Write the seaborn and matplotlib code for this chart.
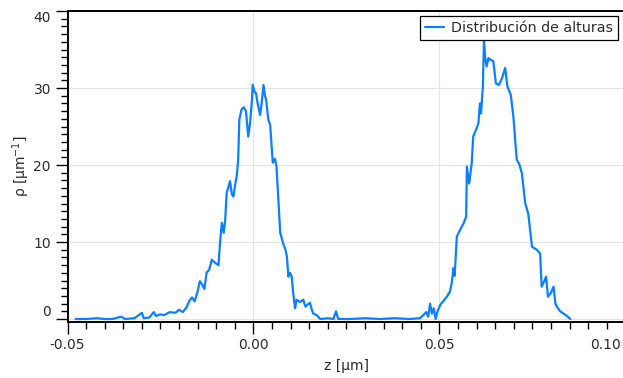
import matplotlib
matplotlib.use("Agg")
import matplotlib.pyplot as plt
import matplotlib.transforms as mtransforms
from matplotlib.ticker import FixedLocator, MultipleLocator
import pandas as pd
import seaborn as sns

# Height distribution: z position (µm) and density rho (µm^-1)
z_um = [
    -0.0478, -0.0450, -0.0420, -0.0400, -0.0380, -0.0355, -0.0345, -0.0320,
    -0.0300, -0.0295, -0.0280, -0.0268, -0.0262, -0.0250, -0.0240, -0.0225,
    -0.0210, -0.0200, -0.0190, -0.0180, -0.0172, -0.0165, -0.0158, -0.0150,
    -0.0144, -0.0138, -0.0132, -0.0126, -0.0119, -0.0112, -0.0103, -0.0094,
    -0.0090, -0.0085, -0.0080, -0.0076, -0.0072, -0.0067, -0.0063, -0.0058,
    -0.0054, -0.0049, -0.0045, -0.0041, -0.0038, -0.0032, -0.0026, -0.0020,
    -0.0014, -0.0009, -0.0004, -0.0002, 0.0003, 0.0007, 0.0012, 0.0018,
    0.0022, 0.0027, 0.0031, 0.0034, 0.0040, 0.0045, 0.0052, 0.0058,
    0.0062, 0.0067, 0.0072, 0.0076, 0.0080, 0.0086, 0.0090, 0.0094,
    0.0098, 0.0103, 0.0107, 0.0112, 0.0116, 0.0125, 0.0134, 0.0140,
    0.0146, 0.0152, 0.0157, 0.0161, 0.0170, 0.0180, 0.0200, 0.0215,
    0.0222, 0.0228, 0.0260, 0.0300, 0.0340, 0.0380, 0.0420, 0.0448,
    0.0465, 0.0470, 0.0475, 0.0480, 0.0485, 0.0490, 0.0495, 0.0502,
    0.0510, 0.0520, 0.0528, 0.0533, 0.0538, 0.0541, 0.0547, 0.0556,
    0.0565, 0.0572, 0.0574, 0.0580, 0.0587, 0.0591, 0.0598, 0.0605,
    0.0609, 0.0612, 0.0617, 0.0620, 0.0623, 0.0627, 0.0632, 0.0636,
    0.0645, 0.0652, 0.0660, 0.0668, 0.0677, 0.0683, 0.0692, 0.0699,
    0.0708, 0.0715, 0.0722, 0.0731, 0.0739, 0.0749, 0.0755, 0.0762,
    0.0771, 0.0775, 0.0781, 0.0787, 0.0792, 0.0800, 0.0807, 0.0812,
    0.0816, 0.0825, 0.0834, 0.0843, 0.0852,
]
rho = [
    0.0, 0.0, 0.1, 0.0, 0.0, 0.3, 0.0, 0.1,
    0.8, 0.1, 0.2, 0.9, 0.4, 0.6, 0.5, 0.9,
    0.8, 1.2, 0.9, 1.5, 2.4, 2.8, 2.3, 3.6,
    4.9, 4.5, 3.9, 6.0, 6.4, 7.7, 7.3, 7.0,
    9.8, 12.5, 11.2, 12.8, 16.4, 17.2, 17.9, 16.2,
    15.9, 17.5, 18.5, 20.7, 25.9, 27.2, 27.5, 27.0,
    23.7, 25.5, 28.5, 30.4, 29.5, 29.3, 27.8, 26.5,
    28.0, 30.4, 29.0, 28.5, 25.9, 25.2, 20.3, 20.8,
    19.8, 15.5, 11.2, 10.5, 9.8, 9.0, 8.1, 5.5,
    6.0, 5.5, 3.3, 1.4, 2.5, 2.2, 2.5, 1.6,
    1.9, 2.1, 1.2, 0.7, 0.5, 0.0, 0.1, 0.0,
    1.0, 0.0, 0.0, 0.1, 0.0, 0.1, 0.0, 0.1,
    0.9, 0.3, 2.0, 0.7, 1.4, 0.0, 1.0, 1.8,
    2.3, 2.9, 3.5, 4.6, 6.6, 5.6, 10.7, 11.6,
    12.4, 13.3, 19.8, 17.6, 20.2, 23.7, 24.5, 25.4,
    28.0, 26.7, 30.2, 36.3, 34.0, 32.8, 33.9, 33.7,
    33.5, 30.6, 30.4, 31.2, 32.6, 30.2, 29.1, 26.3,
    20.7, 20.1, 18.9, 15.0, 13.7, 9.4, 9.2, 9.0,
    8.5, 4.2, 4.8, 5.5, 2.9, 3.4, 4.2, 2.0,
    1.6, 1.0, 0.7, 0.4, 0.0,
]
series_label = "Distribución de alturas"

x_ticks = [-0.05, 0.00, 0.05, 0.10]
x_tick_labels = ["-0.05", "0.00", "0.05", "0.10"]
y_ticks = [0, 10, 20, 30, 40]
y_tick_labels = ["0", "10", "20", "30", "40"]

sns.set_theme(style="white")
plt.rcParams["font.family"] = ["DejaVu Sans"]
plt.rcParams["axes.unicode_minus"] = False

line_color = "#0a80ff"
text_color = "#2b2b2b"

fig = plt.figure(figsize=(6.23, 3.78), dpi=100)
ax = fig.add_axes([0.10835, 0.14894, 0.89535, 0.82196])

df = pd.DataFrame({"z": z_um, "rho": rho, "serie": series_label})
sns.lineplot(data=df, x="z", y="rho", hue="serie", palette=[line_color],
             estimator=None, sort=False, linewidth=1.6, ax=ax)

ax.set_xlim(-0.05, 0.10)
ax.set_ylim(-0.35, 40)

ax.xaxis.set_major_locator(FixedLocator(x_ticks))
ax.set_xticklabels(x_tick_labels)
ax.yaxis.set_major_locator(FixedLocator(y_ticks))
ax.set_yticklabels(y_tick_labels)
ax.xaxis.set_minor_locator(MultipleLocator(0.005))
ax.yaxis.set_minor_locator(MultipleLocator(1))

ax.tick_params(which="both", direction="out", bottom=True, left=True,
               top=False, right=False, color="black", width=1.0,
               labelsize=10, labelcolor=text_color)
ax.tick_params(which="major", length=8.4, pad=3.5)
ax.tick_params(which="minor", length=4.8)

ax.grid(True, which="major", color="#e4e4e4", linewidth=0.8)
ax.set_axisbelow(True)

for side in ("left", "bottom", "top"):
    ax.spines[side].set_visible(True)
    ax.spines[side].set_color("black")
    ax.spines[side].set_linewidth(1.4)
ax.spines["right"].set_visible(False)

ax.set_xlabel("z [µm]", fontsize=10, color=text_color, labelpad=5)
ax.set_ylabel("ρ [µm$^{-1}$]", fontsize=10, color=text_color, labelpad=1)

leg = ax.legend(loc="upper right", bbox_to_anchor=(617.7 / 623, 1 - 16 / 378),
                bbox_transform=fig.transFigure, borderaxespad=0,
                fancybox=False, framealpha=1, edgecolor="black",
                fontsize=10.3, handlelength=1.35, handletextpad=0.45,
                borderpad=0.35)
leg.get_frame().set_linewidth(0.9)
for t in leg.get_texts():
    t.set_color(text_color)

# keep the end tick labels inside the figure
fig.canvas.draw()
ylabels = ax.get_yticklabels()
ylabels[0].set_va("bottom")
ylabels[-1].set_va("top")
xlabels = ax.get_xticklabels()
xlabels[-1].set_ha("right")
shift_left = mtransforms.ScaledTranslation(-4 / 100, 0, fig.dpi_scale_trans)
xlabels[-1].set_transform(xlabels[-1].get_transform() + shift_left)

fig.savefig("out.png", dpi=100)
